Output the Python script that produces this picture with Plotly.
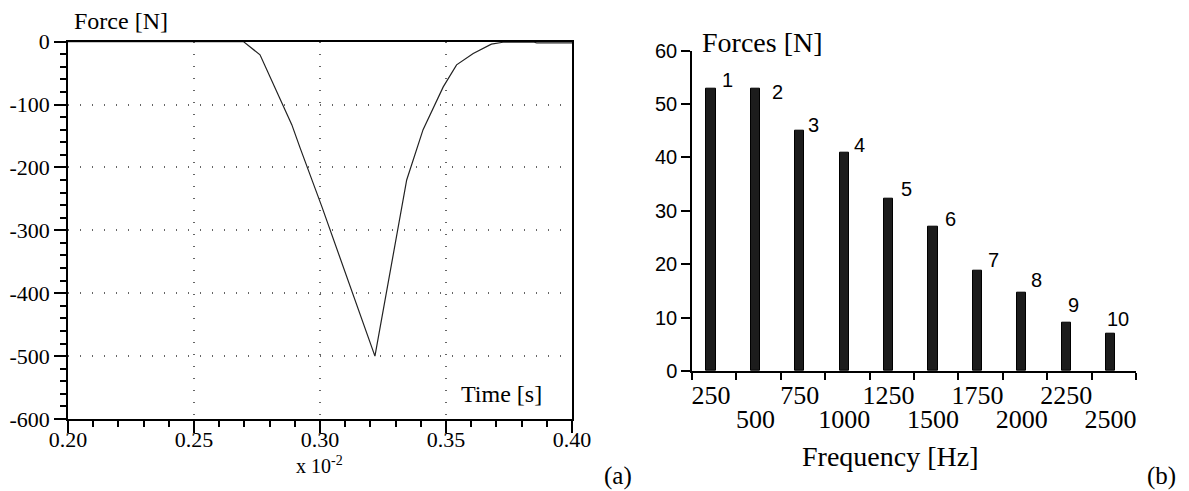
import plotly.graph_objects as go

# ---------------- Panel (a): impact force vs time ----------------
time_x100 = [0.200, 0.2696, 0.2762, 0.2808, 0.2841, 0.2888, 0.2921, 0.3007, 0.3218,
             0.3344, 0.3409, 0.3489, 0.3542, 0.3608, 0.3680, 0.3726, 0.3850, 0.3860, 0.4000]
force_n = [0, 0, -21, -61, -90, -132, -169, -262, -500,
           -220, -140, -72, -37, -19, -4, -1, -1, -2, -2]
time_ticks = [0.20, 0.25, 0.30, 0.35, 0.40]
time_tick_text = ["0.20", "0.25", "0.30", "0.35", "0.40"]
force_ticks = [0, -100, -200, -300, -400, -500, -600]
force_tick_text = ["0", "-100", "-200", "-300", "-400", "-500", "-600"]

# ---------------- Panel (b): harmonic force amplitudes ----------------
harmonic = ["1", "2", "3", "4", "5", "6", "7", "8", "9", "10"]
freq_hz = [250, 500, 750, 1000, 1250, 1500, 1750, 2000, 2250, 2500]
force_amp = [52.8, 52.8, 45.0, 40.9, 32.3, 27.0, 18.8, 14.7, 9.0, 7.0]
amp_ticks = [0, 10, 20, 30, 40, 50, 60]
freq_row1 = [250, 750, 1250, 1750, 2250]
freq_row2 = [500, 1000, 1500, 2000, 2500]

# label offsets (pixels) for the harmonic numbers
label_dx = [16, 22, 14, 15, 18, 17, 16, 15, 7, 7]
label_dy = [9, -3, 6, 8, 10, 8, 11, 13, 18, 15]

# the page body adds an 8 px margin; size the figure to fit the window
PAGE_OFF = 8
W, H = 1189 - PAGE_OFF, 491 - PAGE_OFF
SERIF = "Liberation Serif"
SANS = "Liberation Sans"


def px(x):
    return (x - PAGE_OFF) / W


def py(y):
    return 1 - (y - PAGE_OFF) / H


fig = go.Figure()

fig.add_trace(go.Scatter(x=time_x100, y=force_n, mode="lines",
                         line=dict(color="#222222", width=1.2),
                         xaxis="x", yaxis="y", showlegend=False, hoverinfo="skip"))

fig.add_trace(go.Bar(x=freq_hz, y=force_amp, width=52,
                     marker=dict(color="#1c1c1c", line=dict(color="black", width=1)),
                     xaxis="x2", yaxis="y2", showlegend=False, hoverinfo="skip"))

# invisible helper so the second-row label axis is drawn
fig.add_trace(go.Scatter(x=freq_hz, y=force_amp, mode="markers",
                         marker=dict(opacity=0), xaxis="x3", yaxis="y2",
                         showlegend=False, hoverinfo="skip"))

bin_edges = [f - 107 for f in freq_hz] + [freq_hz[-1] + 143]

grid_dash = "1px,11px"

fig.update_layout(
    width=W, height=H,
    margin=dict(l=0, r=0, t=0, b=0, autoexpand=False),
    paper_bgcolor="white", plot_bgcolor="white",
    bargap=0,
    xaxis=dict(domain=[px(68), px(572)], range=[0.2, 0.4], anchor="y", automargin=False,
               tickmode="array", tickvals=time_ticks, ticktext=time_tick_text,
               ticks="outside", ticklen=12, tickwidth=1.5, tickcolor="black",
               ticklabelstandoff=-12,
               minor=dict(tickmode="linear", tick0=0.2, dtick=0.01, ticks="outside",
                          ticklen=6, tickwidth=1.5, tickcolor="black", showgrid=False),
               showline=True, linecolor="black", linewidth=1.5, mirror=True,
               showgrid=True, gridcolor="#666666", griddash=grid_dash, gridwidth=1.5,
               zeroline=False, tickfont=dict(family=SERIF, size=22, color="black")),
    yaxis=dict(domain=[py(419), py(41.6)], range=[-600, 0], anchor="x", automargin=False,
               tickmode="array", tickvals=force_ticks, ticktext=force_tick_text,
               ticks="outside", ticklen=12, tickwidth=1.5, tickcolor="black",
               minor=dict(tickmode="linear", tick0=0, dtick=20, ticks="outside",
                          ticklen=6, tickwidth=1.5, tickcolor="black", showgrid=False),
               showline=True, linecolor="black", linewidth=1.5, mirror=True,
               showgrid=True, gridcolor="#666666", griddash=grid_dash, gridwidth=1.5,
               zeroline=False, tickfont=dict(family=SERIF, size=22, color="black")),
    xaxis2=dict(domain=[px(692), px(1136)], range=[143, 2643], anchor="y2", automargin=False,
                tickmode="array", tickvals=freq_row1, ticktext=[str(v) for v in freq_row1],
                ticks="",
                minor=dict(tickmode="array", tickvals=bin_edges, ticks="outside",
                           ticklen=7, tickwidth=1.5, tickcolor="black", showgrid=False),
                showline=True, linecolor="black", linewidth=1.5,
                showgrid=False, zeroline=False,
                tickfont=dict(family=SERIF, size=26, color="black")),
    xaxis3=dict(overlaying="x2", range=[143, 2643], anchor="y2", side="bottom", automargin=False,
                tickmode="array", tickvals=freq_row2, ticktext=[str(v) for v in freq_row2],
                ticks="", showline=False, showgrid=False, zeroline=False,
                ticklabelstandoff=30,
                tickfont=dict(family=SERIF, size=26, color="black")),
    yaxis2=dict(domain=[py(371), py(50.7)], range=[0, 60], anchor="x2", automargin=False,
                tickmode="array", tickvals=amp_ticks,
                ticks="outside", ticklen=9, tickwidth=1.5, tickcolor="black",
                showline=True, linecolor="black", linewidth=1.5,
                showgrid=False, zeroline=False,
                tickfont=dict(family=SANS, size=20, color="black")),
)


def paper_text(text, x, y, size, family=SERIF):
    fig.add_annotation(text=text, x=px(x), y=py(y), xref="paper", yref="paper",
                       showarrow=False, xanchor="center", yanchor="middle",
                       font=dict(family=family, size=size, color="black"))


paper_text("Force [N]", 121, 21, 24)
paper_text("Time [s]", 501, 394, 24)
paper_text("x 10<sup>-2</sup>", 319, 465, 20)
paper_text("(a)", 618, 476, 25)
paper_text("Forces [N]", 762, 42, 28)
paper_text("Frequency [Hz]", 890, 456, 28)
paper_text("(b)", 1161, 476, 25)

for lab, f, a, dx, dy in zip(harmonic, freq_hz, force_amp, label_dx, label_dy):
    fig.add_annotation(text=lab, x=f, y=a, xref="x2", yref="y2", showarrow=False,
                       xanchor="center", yanchor="middle", xshift=dx, yshift=dy,
                       font=dict(family=SANS, size=20, color="black"))

fig.write_html("out.html")
